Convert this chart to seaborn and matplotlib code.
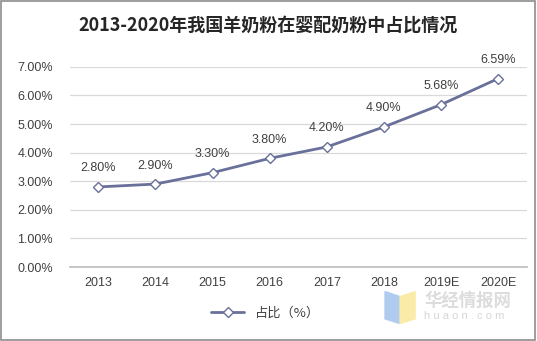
import matplotlib
matplotlib.use("Agg")
import matplotlib.pyplot as plt
import seaborn as sns
import pandas as pd
import numpy as np
from matplotlib.ticker import FuncFormatter, FixedLocator
from matplotlib.patches import Rectangle, Polygon

years = ["2013", "2014", "2015", "2016", "2017", "2018", "2019E", "2020E"]
share = [2.80, 2.90, 3.30, 3.80, 4.20, 4.90, 5.68, 6.59]
series_name = "占比（%）"
title = "2013-2020年我国羊奶粉在婴配奶粉中占比情况"

sns.set_theme(style="white")
plt.rcParams['font.family'] = ['Liberation Sans', 'Noto Sans CJK SC', 'DejaVu Sans']

df = pd.DataFrame({"year": years, "share": share, "idx": np.arange(len(years))})

fig = plt.figure(figsize=(5.37, 3.41), dpi=100)
ax = fig.add_axes([0.130, 0.217, 0.851, 0.587])
line_color = "#69709A"
sns.lineplot(data=df, x="idx", y="share", ax=ax, color=line_color, linewidth=2.0,
             marker="D", markersize=5.5, markerfacecolor="white",
             markeredgecolor=line_color, markeredgewidth=1.0, label=series_name, legend=False)

ax.set_xlim(-0.5, len(years) - 0.5)
ax.set_ylim(0, 7)
ax.set_yticks(np.arange(0, 8, 1))
ax.yaxis.set_major_formatter(FuncFormatter(lambda v, p: f"{v:.2f}%"))
ax.set_xticks(df["idx"])
ax.set_xticklabels(years)
ax.xaxis.set_minor_locator(FixedLocator(np.arange(-0.5, len(years), 1)))
ax.tick_params(axis="x", which="minor", length=4, color="#BFBFBF", width=0.8)
ax.tick_params(axis="x", which="major", length=0, labelsize=9, colors="#404040", pad=7)
ax.tick_params(axis="y", length=0, labelsize=9, colors="#404040", pad=12)
ax.grid(axis="y", color="#D9D9D9", linewidth=0.9)
for s in ["left", "right", "top"]:
    ax.spines[s].set_visible(False)
ax.spines["bottom"].set_color("#BFBFBF")
ax.set_xlabel("")
ax.set_ylabel("")

for i, v in enumerate(share):
    ax.annotate(f"{v:.2f}%", (i, v), xytext=(0, 9), textcoords="offset points",
                ha="center", va="bottom", fontsize=9, color="#404040")

fig.text(0.5, 0.925, title, ha="center", va="center", fontsize=13, fontweight="bold",
         color="#262626", family=['Noto Sans CJK SC', 'DejaVu Sans'])

handles, labels = ax.get_legend_handles_labels()
leg = fig.legend(handles, labels, loc="center", bbox_to_anchor=(0.495, 0.082), frameon=False,
                 handlelength=2.5, prop={'family': ['Noto Sans CJK SC', 'DejaVu Sans'], 'size': 9.5})
for t in leg.get_texts():
    t.set_color("#404040")

# watermark
fig.text(0.790, 0.117, "华经情报网", fontsize=12.5, color="#DCDCDC", fontweight="bold",
         va="center", family=['Noto Sans CJK SC', 'DejaVu Sans'])
fig.text(0.790, 0.072, "h u a o n . c o m", fontsize=8, color="#D6D6D6", va="center")
fig.patches.append(Polygon([(0.717, 0.145), (0.745, 0.130), (0.745, 0.051), (0.717, 0.065)],
                           closed=True, transform=fig.transFigure, color="#AFCBF0", zorder=0))
fig.patches.append(Polygon([(0.745, 0.130), (0.773, 0.145), (0.773, 0.065), (0.745, 0.051)],
                           closed=True, transform=fig.transFigure, color="#FBEBA8", zorder=0))

fig.patches.append(Rectangle((0.002, 0.003), 0.995, 0.993, transform=fig.transFigure,
                             fill=False, edgecolor="#8C8C8C", linewidth=1.2))

fig.savefig("out.png", dpi=100)
